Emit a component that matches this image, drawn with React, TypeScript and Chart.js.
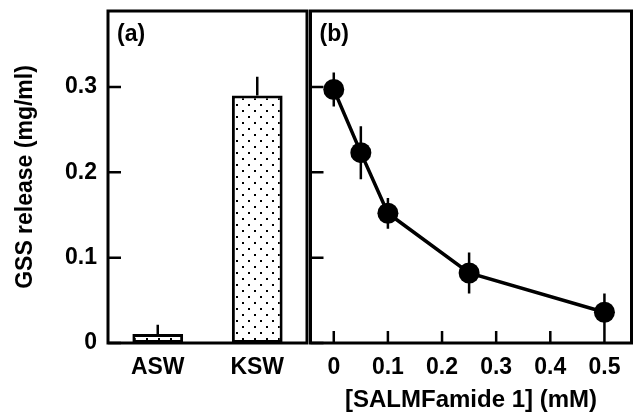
import React, { useEffect, useRef } from 'react';
import { Chart, registerables } from 'chart.js';

Chart.register(...registerables);

// ---- data ----
const barCategories = ['ASW', 'KSW'];
const barValues = [0.0105, 0.29];
const barErrors = [0.011, 0.022];

const doseValues = [0, 0.05, 0.1, 0.25, 0.5];
const releaseValues = [0.297, 0.223, 0.152, 0.082, 0.036];
const releaseErrors = [0.02, 0.031, 0.018, 0.024, 0.022];

const yTickValues = [0, 0.1, 0.2, 0.3];
const xTickValues = [0, 0.1, 0.2, 0.3, 0.4, 0.5];

const Y_MIN = 0;
const Y_MAX = 0.389;
const X_MIN = -0.043;
const X_MAX = 0.55;

const yTitle = 'GSS release (mg/ml)';
const xTitle = '[SALMFamide 1] (mM)';
const panelLabels = ['(a)', '(b)'];

// ---- styles ----
const FAMILY = "'Liberation Sans', Arial, Helvetica, sans-serif";
const tickFont = { family: FAMILY, size: 23, weight: 'bold' as const };
const yTitleFont = { family: FAMILY, size: 23, weight: 'bold' as const };
const xTitleFont = { family: FAMILY, size: 24, weight: 'bold' as const };
const BLACK = '#000000';

const fmt = (v: number) => (v === 0 ? '0' : Number(v).toFixed(1));

function makeDotPattern(): CanvasPattern | string {
  const c = document.createElement('canvas');
  c.width = 12;
  c.height = 12;
  const g = c.getContext('2d');
  if (!g) return '#ffffff';
  g.fillStyle = '#ffffff';
  g.fillRect(0, 0, 12, 12);
  g.fillStyle = '#000000';
  g.fillRect(2, 2, 2, 2);
  g.fillRect(8, 8, 2, 2);
  const p = g.createPattern(c, 'repeat');
  return p || '#ffffff';
}

function framePlugin(label: string, leftTicks: number[], bottomTicks: number[]) {
  return {
    id: 'frameAndTicks' + label,
    afterDraw(chart: any) {
      const { ctx, chartArea } = chart;
      const { left, top, right, bottom } = chartArea;
      const ys = chart.scales.y;
      const xs = chart.scales.x;
      ctx.save();
      ctx.strokeStyle = BLACK;
      ctx.lineWidth = 2.5;
      ctx.beginPath();
      for (const v of leftTicks) {
        const py = ys.getPixelForValue(v);
        ctx.moveTo(left, py);
        ctx.lineTo(left + 13, py);
      }
      for (const v of bottomTicks) {
        const px = xs.getPixelForValue(v);
        ctx.moveTo(px, bottom);
        ctx.lineTo(px, bottom - 12);
      }
      ctx.stroke();
      ctx.lineWidth = 3;
      ctx.strokeRect(left, top, right - left, bottom - top);
      ctx.fillStyle = BLACK;
      ctx.font = `bold 23px ${FAMILY}`;
      ctx.textBaseline = 'middle';
      ctx.textAlign = 'left';
      ctx.fillText(label, left + 9, top + 24);
      ctx.restore();
    },
  };
}

const barErrorPlugin = {
  id: 'barErrors',
  afterDatasetsDraw(chart: any) {
    const { ctx } = chart;
    const xs = chart.scales.x;
    const ys = chart.scales.y;
    ctx.save();
    ctx.strokeStyle = BLACK;
    ctx.lineWidth = 2.5;
    ctx.beginPath();
    barValues.forEach((v, i) => {
      const px = xs.getPixelForValue(i);
      ctx.moveTo(px, ys.getPixelForValue(v));
      ctx.lineTo(px, ys.getPixelForValue(v + barErrors[i]));
    });
    ctx.stroke();
    ctx.restore();
  },
};

const pointErrorPlugin = {
  id: 'pointErrors',
  beforeDatasetsDraw(chart: any) {
    const { ctx } = chart;
    const xs = chart.scales.x;
    const ys = chart.scales.y;
    ctx.save();
    ctx.strokeStyle = BLACK;
    ctx.lineWidth = 2.5;
    ctx.beginPath();
    releaseValues.forEach((v, i) => {
      const px = xs.getPixelForValue(doseValues[i]);
      ctx.moveTo(px, ys.getPixelForValue(v - releaseErrors[i]));
      ctx.lineTo(px, ys.getPixelForValue(v + releaseErrors[i]));
    });
    ctx.stroke();
    ctx.restore();
  },
};

export default function App() {
  const refA = useRef<HTMLCanvasElement | null>(null);
  const refB = useRef<HTMLCanvasElement | null>(null);

  useEffect(() => {
    if (!refA.current || !refB.current) return;

    const chartA = new Chart(refA.current, {
      type: 'bar',
      data: {
        labels: barCategories,
        datasets: [
          {
            data: barValues,
            backgroundColor: makeDotPattern() as any,
            borderColor: BLACK,
            borderWidth: 3,
            borderSkipped: false,
            barPercentage: 0.51,
            categoryPercentage: 1,
          },
        ],
      },
      options: {
        animation: false,
        responsive: false,
        layout: { padding: { top: 11, right: 3, left: 0, bottom: 0 } },
        plugins: { legend: { display: false }, tooltip: { enabled: false } },
        scales: {
          x: {
            type: 'category',
            offset: true,
            grid: { display: false, drawTicks: false },
            border: { display: false },
            ticks: { color: BLACK, font: tickFont, padding: 11, maxRotation: 0, autoSkip: false },
            afterFit(s: any) {
              s.height = 73;
              s.paddingLeft = 0;
              s.paddingRight = 0;
            },
          },
          y: {
            min: Y_MIN,
            max: Y_MAX,
            afterBuildTicks(s: any) {
              s.ticks = yTickValues.map((v) => ({ value: v }));
            },
            grid: { display: false, drawTicks: false },
            border: { display: false },
            ticks: { color: BLACK, font: tickFont, padding: 11, callback: (v: any) => fmt(Number(v)) },
            title: { display: true, text: yTitle, color: BLACK, font: yTitleFont, padding: { top: 12, bottom: 0 } },
            afterFit(s: any) {
              s.width = 108;
              s.paddingTop = 0;
              s.paddingBottom = 0;
            },
          },
        },
      } as any,
      plugins: [barErrorPlugin, framePlugin(panelLabels[0], yTickValues, [])],
    });

    const chartB = new Chart(refB.current, {
      type: 'scatter',
      data: {
        datasets: [
          {
            data: doseValues.map((x, i) => ({ x, y: releaseValues[i] })),
            showLine: true,
            borderColor: BLACK,
            borderWidth: 3.5,
            backgroundColor: BLACK,
            pointRadius: 10.5,
            pointBackgroundColor: BLACK,
            pointBorderWidth: 0,
            tension: 0,
          },
        ],
      },
      options: {
        animation: false,
        responsive: false,
        layout: { padding: { top: 11, right: 2, left: 7, bottom: 0 } },
        plugins: { legend: { display: false }, tooltip: { enabled: false } },
        scales: {
          x: {
            type: 'linear',
            min: X_MIN,
            max: X_MAX,
            afterBuildTicks(s: any) {
              s.ticks = xTickValues.map((v) => ({ value: v }));
            },
            grid: { display: false, drawTicks: false },
            border: { display: false },
            ticks: { color: BLACK, font: tickFont, padding: 11, maxRotation: 0, autoSkip: false, callback: (v: any) => fmt(Number(v)) },
            title: { display: true, text: xTitle, color: BLACK, font: xTitleFont, padding: { top: 0, bottom: 1 } },
            afterFit(s: any) {
              s.height = 73;
              s.paddingLeft = 0;
              s.paddingRight = 0;
            },
          },
          y: {
            min: Y_MIN,
            max: Y_MAX,
            afterBuildTicks(s: any) {
              s.ticks = yTickValues.map((v) => ({ value: v }));
            },
            grid: { display: false, drawTicks: false },
            border: { display: false },
            ticks: { display: false },
            afterFit(s: any) {
              s.width = 0;
              s.paddingTop = 0;
              s.paddingBottom = 0;
            },
          },
        },
      } as any,
      plugins: [pointErrorPlugin, framePlugin(panelLabels[1], yTickValues, xTickValues)],
    });

    return () => {
      chartA.destroy();
      chartB.destroy();
    };
  }, []);

  return (
    <div style={{ position: 'fixed', left: 0, top: 0, width: 642, height: 416, background: '#ffffff' }}>
      <canvas ref={refA} width={310} height={416} style={{ position: 'absolute', left: 0, top: 0, width: 310, height: 416 }} />
      <canvas ref={refB} width={342} height={416} style={{ position: 'absolute', left: 300, top: 0, width: 342, height: 416 }} />
    </div>
  );
}
